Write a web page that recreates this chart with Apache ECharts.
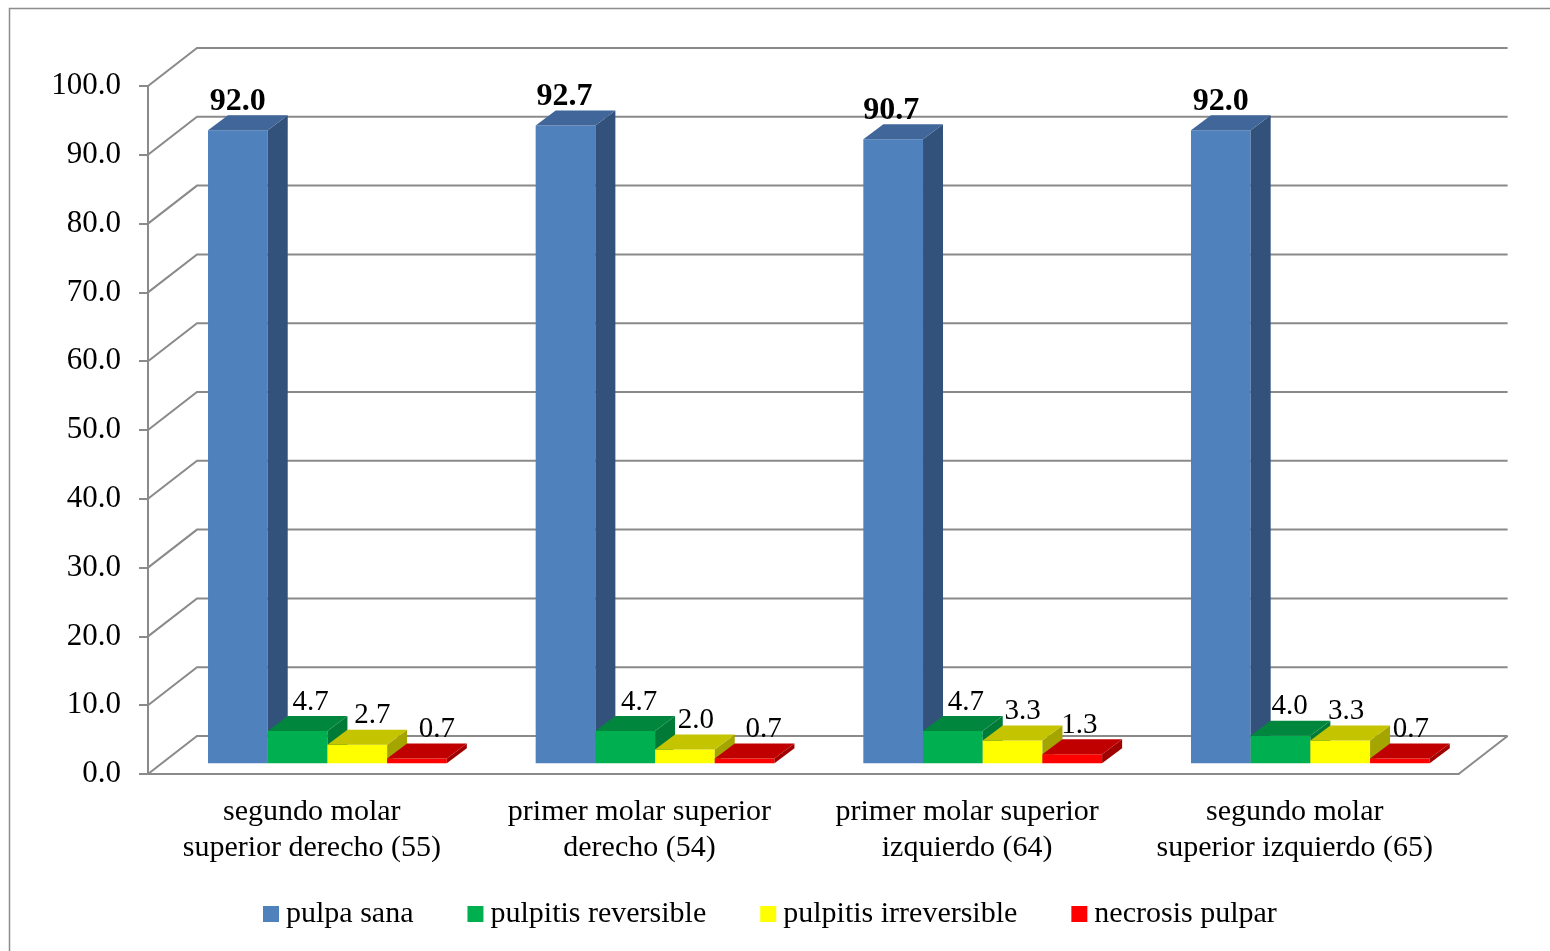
<!DOCTYPE html>
<html>
<head>
<meta charset="utf-8">
<style>
  html, body { margin: 0; padding: 0; background: #fff; }
  #chart { width: 1550px; height: 951px; }
</style>
<script src="https://cdn.jsdelivr.net/npm/echarts@6/dist/echarts.min.js"></script>
</head>
<body>
<div id="chart"></div>
<script>
const categories = [
  'segundo molar\nsuperior derecho (55)',
  'primer molar superior\nderecho (54)',
  'primer molar superior\nizquierdo (64)',
  'segundo molar\nsuperior izquierdo (65)'
];
const yTicks = [0, 10, 20, 30, 40, 50, 60, 70, 80, 90, 100];
const pulpaSana = [92.0, 92.7, 90.7, 92.0];
const pulpitisReversible = [4.7, 4.7, 4.7, 4.0];
const pulpitisIrreversible = [2.7, 2.0, 3.3, 3.3];
const necrosisPulpar = [0.7, 0.7, 1.3, 0.7];

// hand placed labels in the original, px right of the bar centre
const labelNudge = [
  [0, -1, -2, 0],
  [13, 14, 13, 9],
  [15, 11, 10, 6],
  [20, 19, 7, 11]
];

const FONT = '"Liberation Serif", "Times New Roman", serif';
const WALL = '#8a8a8a';
// depth of the chart box and of one bar, in px
const BOX_DX = 49, BOX_DY = 38;
const BAR_DX = 20, BAR_DY = 15;

function poly(points, fill, z2) {
  return { type: 'polygon', shape: { points: points }, style: { fill: fill }, z2: z2 || 0 };
}

function renderWall(params, api) {
  const cs = params.coordSys;
  const y = api.coord([0, api.value(0)])[1];
  const x0 = cs.x, x1 = cs.x + cs.width;
  const children = [{
    type: 'polyline',
    shape: { points: [[x0, y], [x0 + BOX_DX, y - BOX_DY], [x1 + BOX_DX, y - BOX_DY]] },
    style: { stroke: WALL, lineWidth: 2, fill: null }
  }];
  if (api.value(0) === 0) {
    children.push({
      type: 'line',
      shape: { x1: x1, y1: y, x2: x1 + BOX_DX, y2: y - BOX_DY },
      style: { stroke: WALL, lineWidth: 2 }
    });
  }
  return { type: 'group', children: children };
}

function barRenderer(index, colors, bold) {
  return function (params, api) {
    const i = api.value(0), v = api.value(1);
    const top = api.coord([i, v]);
    const band = api.size([1, 0])[0];
    const w = band * 0.1822;
    const x0 = top[0] + band * 0.0476 + (index - 2) * w;
    const x1 = x0 + w;
    const yTop = top[1] - 10.7;
    const yBase = api.coord([i, 0])[1] - 10.7;
    return {
      type: 'group',
      children: [
        poly([[x0, yBase], [x1, yBase], [x1, yTop], [x0, yTop]], colors[0]),
        poly([[x1, yBase], [x1 + BAR_DX, yBase - BAR_DY], [x1 + BAR_DX, yTop - BAR_DY], [x1, yTop]], colors[2]),
        poly([[x0, yTop], [x1, yTop], [x1 + BAR_DX, yTop - BAR_DY], [x0 + BAR_DX, yTop - BAR_DY]], colors[1]),
        {
          type: 'text',
          z2: 100,
          style: {
            x: (x0 + x1) / 2 + labelNudge[index][i],
            y: yTop - 29,
            text: v.toFixed(1),
            align: 'center',
            verticalAlign: 'middle',
            fill: '#000',
            font: (bold ? 'bold 32px ' : '29px ') + FONT
          }
        }
      ]
    };
  };
}

function barSeries(name, values, index, colors, bold) {
  return {
    name: name,
    type: 'custom',
    itemStyle: { color: colors[0] },
    renderItem: barRenderer(index, colors, bold),
    encode: { x: 0, y: 1 },
    data: values.map(function (v, i) { return [i, v]; })
  };
}

const myChart = echarts.init(document.getElementById('chart'));
const option = {
  animation: false,
  backgroundColor: '#fff',
  grid: { left: 148, right: 91.4, top: 86, bottom: 177 },
  graphic: [{
    type: 'polyline',
    silent: true,
    shape: { points: [[9.5, 951], [9.5, 8.5], [1550, 8.5]] },
    style: { stroke: '#8c8c8c', lineWidth: 1.5, fill: null }
  }],
  legend: {
    left: 258,
    top: 894,
    icon: 'rect',
    itemWidth: 16,
    itemHeight: 16,
    itemGap: 54,
    data: ['pulpa sana', 'pulpitis reversible', 'pulpitis irreversible', 'necrosis pulpar'],
    textStyle: { fontFamily: FONT, fontSize: 30, color: '#000', padding: [0, 0, 0, 2] }
  },
  xAxis: {
    type: 'category',
    data: categories,
    axisLine: { lineStyle: { color: WALL, width: 2 } },
    axisTick: { length: 9, lineStyle: { color: WALL, width: 2 } },
    axisLabel: { fontFamily: FONT, fontSize: 30, lineHeight: 36, color: '#000', margin: 20, interval: 0 }
  },
  yAxis: {
    type: 'value',
    min: 0,
    max: 100,
    interval: 10,
    splitLine: { show: false },
    axisLine: { show: true, lineStyle: { color: WALL, width: 2 } },
    axisTick: { show: true, length: 9, lineStyle: { color: WALL, width: 2 } },
    axisLabel: {
      fontFamily: FONT, fontSize: 31, color: '#000', margin: 27,
      formatter: function (v) { return v.toFixed(1); }
    }
  },
  series: [
    {
      type: 'custom',
      silent: true,
      renderItem: renderWall,
      encode: { y: 0 },
      data: yTicks.map(function (v) { return [v]; })
    },
    barSeries('pulpa sana', pulpaSana, 0, ['#4f81bd', '#40669a', '#33527b'], true),
    barSeries('pulpitis reversible', pulpitisReversible, 1, ['#00b050', '#00873d', '#007a37'], false),
    barSeries('pulpitis irreversible', pulpitisIrreversible, 2, ['#ffff00', '#c4c400', '#a5a500'], false),
    barSeries('necrosis pulpar', necrosisPulpar, 3, ['#ff0000', '#c00000', '#a00000'], false)
  ]
};
myChart.setOption(option);
</script>
</body>
</html>
